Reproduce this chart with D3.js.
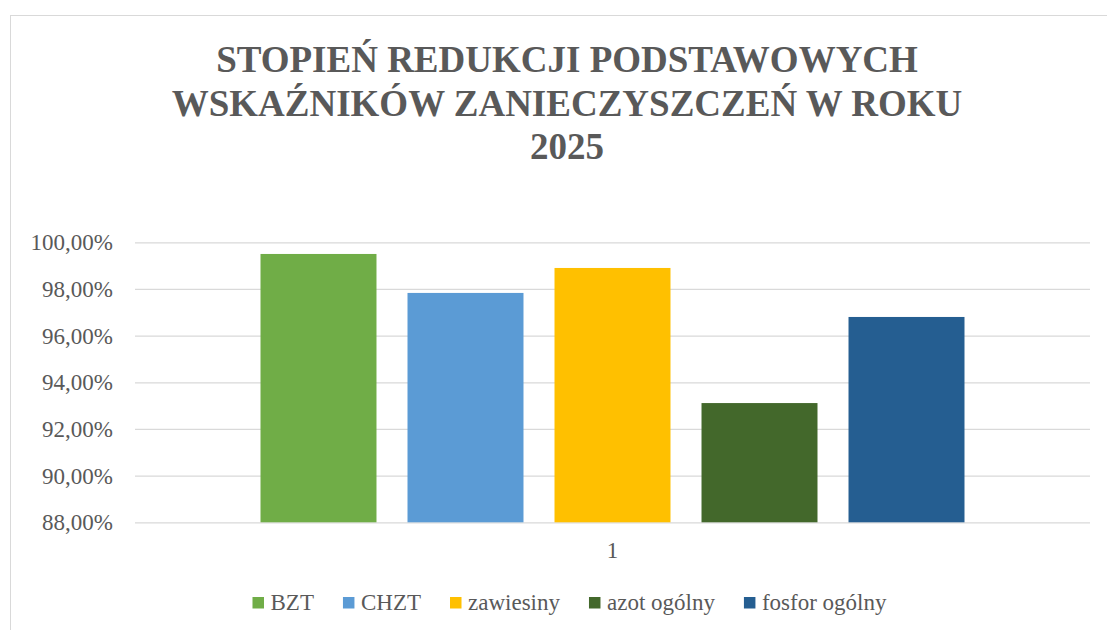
<!DOCTYPE html>
<html>
<head>
<meta charset="utf-8">
<script src="https://cdn.jsdelivr.net/npm/d3@7"></script>
<style>
  html, body { margin: 0; padding: 0; background: #fff; }
</style>
</head>
<body>
<div id="graph-container"></div>
<script>
// ========== Data ==========
const categories = ["1"];
const seriesNames = ["BZT", "CHZT", "zawiesiny", "azot ogólny", "fosfor ogólny"];
const seriesValues = [99.50, 97.83, 98.90, 93.11, 96.80];
const yTicks = [88, 90, 92, 94, 96, 98, 100];
const titleLines = ["STOPIEŃ REDUKCJI PODSTAWOWYCH", "WSKAŹNIKÓW ZANIECZYSZCZEŃ W ROKU", "2025"];

const colorArr = ["#70ad47", "#5b9bd5", "#ffc000", "#43682b", "#255e91"];

const serif = '"Liberation Serif", "Times New Roman", serif';
const textColor = "#595959";

// Dimensions
let w = 1107,
    h = 630;

let plot = { left: 135, right: 1090, top: 242.3, bottom: 522.3 };

const svg = d3.select("#graph-container").append("svg")
    .attr("width", w)
    .attr("height", h)
    .attr("font-family", serif);

// Chart area border (runs off the right / bottom edge)
svg.append("rect")
  .attr("x", 10.5)
  .attr("y", 15.5)
  .attr("width", 1140)
  .attr("height", 700)
  .attr("fill", "#fff")
  .attr("stroke", "#d9d9d9")
  .attr("stroke-width", 1);

// ========== Title ==========
svg.append("text")
  .attr("text-anchor", "middle")
  .style("font-family", serif)
  .style("font-size", "37px")
  .style("font-weight", "bold")
  .style("fill", textColor)
  .selectAll("tspan")
  .data(titleLines)
  .enter()
  .append("tspan")
    .attr("x", 567)
    .attr("y", (d, i) => 72 + i * 43.5)
    .text(d => d);

// ========== Scales ==========
let y = d3.scaleLinear()
  .domain([88, 100])
  .range([plot.bottom, plot.top]);

let x0 = d3.scaleBand()
  .domain(categories)
  .range([plot.left, plot.right])
  .padding(0.1513);

let x1 = d3.scaleBand()
  .domain(seriesNames)
  .range([0, x0.bandwidth()])
  .paddingInner(0.211)
  .paddingOuter(0);

// ========== Gridlines + y axis ==========
let yAxis = svg.append("g")
  .attr("transform", `translate(${plot.left},0)`)
  .call(d3.axisLeft(y)
    .tickValues(yTicks)
    .tickSize(-(plot.right - plot.left))
    .tickPadding(22)
    .tickFormat(d => d3.format(".2f")(d).replace(".", ",") + "%"));

yAxis.select(".domain").remove();
yAxis.selectAll(".tick line")
  .attr("stroke", "#d9d9d9")
  .attr("stroke-width", 1.3);
yAxis.selectAll(".tick text")
  .style("font-family", serif)
  .style("font-size", "23px")
  .style("fill", textColor)
  .attr("dy", "0.33em");

// ========== Bars ==========
let barData = seriesNames.map((name, i) => ({ cat: categories[0], name, value: seriesValues[i] }));

svg.append("g")
  .selectAll("rect")
  .data(barData)
  .enter()
  .append("rect")
    .attr("x", d => x0(d.cat) + x1(d.name))
    .attr("y", d => y(d.value))
    .attr("width", x1.bandwidth())
    .attr("height", d => y(88) - y(d.value))
    .attr("fill", (d, i) => colorArr[i]);

// ========== x axis label ==========
svg.append("g")
  .selectAll("text")
  .data(categories)
  .enter()
  .append("text")
    .attr("x", d => x0(d) + x0.bandwidth() / 2)
    .attr("y", 558)
    .attr("text-anchor", "middle")
    .style("font-family", serif)
    .style("font-size", "23px")
    .style("fill", textColor)
    .text(d => d);

// ========== Legend ==========
let legend = svg.append("g");
let items = legend.selectAll("g")
  .data(seriesNames)
  .enter()
  .append("g");

items.append("rect")
  .attr("y", 597)
  .attr("width", 11.5)
  .attr("height", 11.5)
  .attr("fill", (d, i) => colorArr[i]);

items.append("text")
  .attr("x", 18)
  .attr("y", 609.5)
  .style("font-family", serif)
  .style("font-size", "23px")
  .style("fill", textColor)
  .text(d => d);

// position items in a centred row
let offsets = [], cursor = 0;
items.each(function() {
  offsets.push(cursor);
  cursor += 18 + this.querySelector("text").getComputedTextLength() + 29;
});
let totalW = cursor - 29;
let startX = 569.5 - totalW / 2;
items.attr("transform", (d, i) => `translate(${startX + offsets[i]},0)`);
</script>
</body>
</html>
